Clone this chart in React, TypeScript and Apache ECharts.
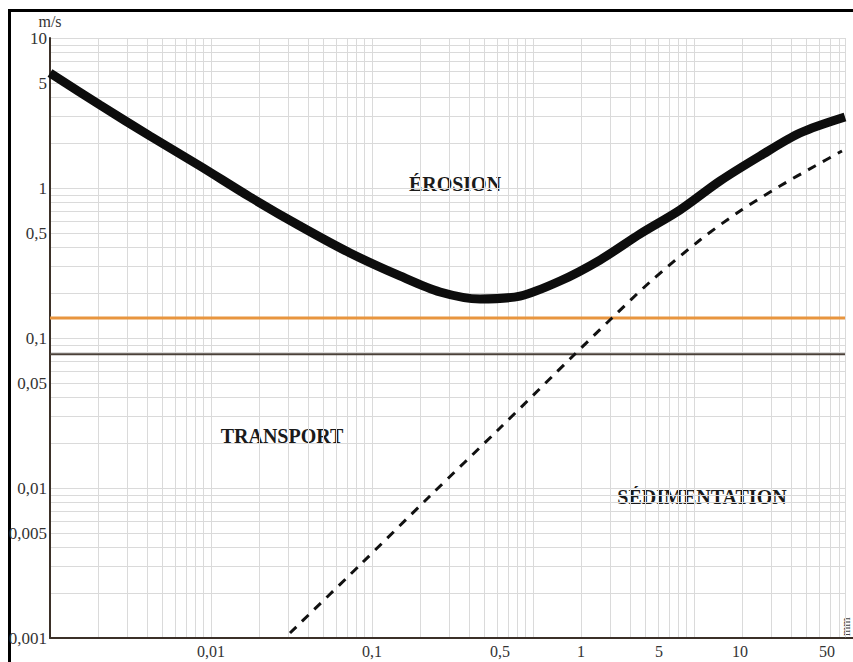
import React, { useEffect, useRef } from "react";
import * as echarts from "echarts";

// Axis extents (grain diameter in mm, velocity in m/s)
const xMin = 0.001;
const xMax = 86.7;
const yMin = 0.001;
const yMax = 10;

// Printed tick labels and the grid value where each one sits
const xLabelTexts = ["0,01", "0,1", "0,5", "1", "5", "10", "50"];
const xLabelAt = [0.01, 0.1, 0.624, 1.99, 6.07, 19.3, 67];
const yLabelTexts = ["10", "5", "1", "0,5", "0,1", "0,05", "0,01", "0,005", "0,001"];
const yLabelAt = [10, 5, 1, 0.5, 0.1, 0.05, 0.01, 0.005, 0.001];

// Erosion curve (thick line)
const erosionD = [0.001, 0.002045, 0.004179, 0.008544, 0.01747, 0.0357, 0.07302, 0.1492, 0.2646, 0.4687, 0.8304, 1.471, 2.607, 4.619, 8.185, 14.5, 25.7, 45.53, 86.7];
const erosionV = [5.845, 3.575, 2.222, 1.402, 0.871, 0.558, 0.3687, 0.2591, 0.2026, 0.182, 0.1905, 0.2399, 0.3311, 0.4935, 0.7135, 1.113, 1.634, 2.326, 2.974];

// Sedimentation curve (dashed line)
const sedimentD = [0.03095, 0.0842, 0.2292, 0.6237, 1.823, 3.095, 5.33, 10.9, 19.31, 34.21, 56.43, 83.05];
const sedimentV = [0.00108, 0.003067, 0.00885, 0.02512, 0.0782, 0.1359, 0.2362, 0.45, 0.7026, 1.031, 1.402, 1.765];

// Horizontal reference lines
const orangeV = 0.136;
const brownV = 0.078;

const L = (v: number) => Math.log10(v);

function logGrid(min: number, max: number): number[] {
  const out: number[] = [];
  for (let e = Math.floor(L(min)); e <= Math.ceil(L(max)); e++) {
    for (let k = 1; k <= 9; k++) {
      const v = k * Math.pow(10, e);
      if (v >= min * 0.9999 && v <= max * 1.0001) out.push(L(v));
    }
  }
  out.push(L(max));
  return out;
}

function pickLabel(value: number, at: number[], texts: string[]): string {
  for (let i = 0; i < at.length; i++) {
    if (Math.abs(L(at[i]) - value) < 1e-6) return texts[i];
  }
  return "";
}

const serif = "Liberation Serif";

export default function App() {
  const ref = useRef<HTMLDivElement>(null);
  useEffect(() => {
    if (!ref.current) return;
    const chart = echarts.init(ref.current, undefined, { renderer: "svg" });
    const xMinL = L(xMin);
    const xMaxL = L(xMax);
    const option: any = {
      animation: false,
      backgroundColor: "#ffffff",
      grid: { left: 50, right: 8, top: 38, bottom: 24, containLabel: false, outerBoundsMode: "none" },
      xAxis: {
        type: "value",
        min: xMinL,
        max: xMaxL,
        axisLine: { show: true, onZero: false, lineStyle: { color: "#3b3028", width: 2 } },
        axisTick: { show: false, customValues: logGrid(xMin, xMax) },
        splitLine: { show: true, lineStyle: { color: "#dadada", width: 1 } },
        axisLabel: {
          customValues: xLabelAt.map(L),
          formatter: (v: number) => pickLabel(v, xLabelAt, xLabelTexts),
          fontFamily: serif,
          fontSize: 16,
          color: "#333",
          margin: 5,
          hideOverlap: false,
          showMinLabel: true,
          showMaxLabel: true,
        },
      },
      yAxis: {
        type: "value",
        min: L(yMin),
        max: L(yMax),
        name: "m/s",
        nameLocation: "end",
        nameGap: 6,
        nameTextStyle: { fontFamily: serif, fontSize: 16, color: "#333", align: "center" },
        axisLine: { show: true, onZero: false, lineStyle: { color: "#3b3028", width: 2 } },
        axisTick: { show: false, customValues: logGrid(yMin, yMax) },
        splitLine: { show: true, lineStyle: { color: "#dadada", width: 1 } },
        axisLabel: {
          customValues: yLabelAt.map(L),
          formatter: (v: number) => pickLabel(v, yLabelAt, yLabelTexts),
          fontFamily: serif,
          fontSize: 17,
          color: "#333",
          margin: 3,
          hideOverlap: false,
          showMinLabel: true,
          showMaxLabel: true,
        },
      },
      series: [
        {
          type: "line",
          silent: true,
          symbol: "none",
          data: [[xMinL, L(orangeV)], [xMaxL, L(orangeV)]],
          lineStyle: { color: "#e8953f", width: 3 },
          z: 2,
        },
        {
          type: "line",
          silent: true,
          symbol: "none",
          data: [[xMinL, L(brownV)], [xMaxL, L(brownV)]],
          lineStyle: { color: "#4a4038", width: 2 },
          z: 2,
        },
        {
          type: "line",
          silent: true,
          symbol: "none",
          smooth: 0.3,
          data: sedimentD.map((d, i) => [L(d), L(sedimentV[i])]),
          lineStyle: { color: "#111", width: 3, type: [9, 8] },
          z: 3,
        },
        {
          type: "line",
          silent: true,
          symbol: "none",
          smooth: 0.3,
          data: erosionD.map((d, i) => [L(d), L(erosionV[i])]),
          lineStyle: { color: "#0d0d0d", width: 9, cap: "butt" },
          z: 4,
        },
      ],
      graphic: [
        {
          type: "rect",
          silent: true,
          shape: { x: 9.5, y: 10.5, width: 900, height: 700 },
          style: { fill: "none", stroke: "#000", lineWidth: 3 },
        },
        {
          type: "line",
          silent: true,
          shape: { x1: 844, y1: 638, x2: 853, y2: 638 },
          style: { stroke: "#3b3028", lineWidth: 2 },
        },
        {
          type: "text",
          silent: true,
          x: 846,
          y: 636,
          rotation: Math.PI / 2,
          style: { text: "mm", fontFamily: serif, fontSize: 12, fill: "#444", align: "left", verticalAlign: "middle" },
        },
        {
          type: "text",
          silent: true,
          x: 455,
          y: 184,
          style: { text: "ÉROSION", fontFamily: serif, fontSize: 20, fontWeight: "bold", fill: "#1a1a1a", align: "center", verticalAlign: "middle" },
        },
        {
          type: "text",
          silent: true,
          x: 282,
          y: 436,
          style: { text: "TRANSPORT", fontFamily: serif, fontSize: 20, fontWeight: "bold", fill: "#1a1a1a", align: "center", verticalAlign: "middle" },
        },
        {
          type: "text",
          silent: true,
          x: 702,
          y: 497,
          style: { text: "SÉDIMENTATION", fontFamily: serif, fontSize: 20, fontWeight: "bold", fill: "#1a1a1a", align: "center", verticalAlign: "middle" },
        },
      ],
    };
    chart.setOption(option);
    return () => chart.dispose();
  }, []);
  return (
    <div
      ref={ref}
      style={{ position: "fixed", left: 0, top: 0, width: 853, height: 662, background: "#fff" }}
    />
  );
}
